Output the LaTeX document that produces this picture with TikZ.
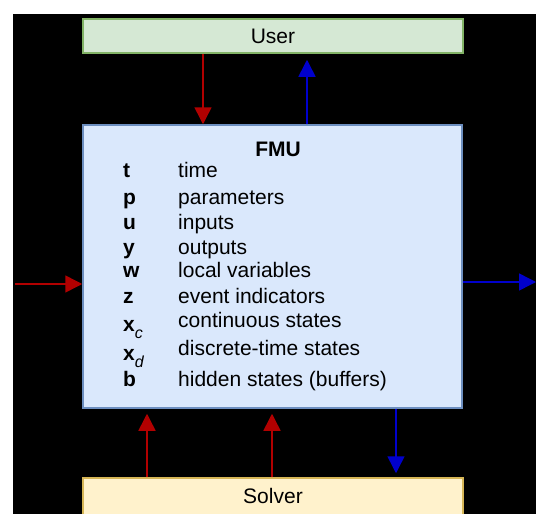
\documentclass[tikz,border=0pt]{standalone}
\usepackage{fontspec}
\setmainfont{Liberation Sans}
\usetikzlibrary{arrows.meta,positioning}
\definecolor{usergreen}{HTML}{D5E8D4}
\definecolor{userline}{HTML}{82B366}
\definecolor{fmublue}{HTML}{DAE8FC}
\definecolor{fmuline}{HTML}{6C8EBF}
\definecolor{solveryellow}{HTML}{FFF2CC}
\definecolor{solverline}{HTML}{D6B656}
\definecolor{inred}{HTML}{B20000}
\definecolor{outblue}{HTML}{0000CC}
\newcommand{\subsym}[2]{\textbf{#1}\raisebox{-7pt}{\fontsize{16}{16}\selectfont\mdseries\itshape #2}}

\begin{document}
\begin{tikzpicture}[x=1pt, y=-1pt, font=\fontsize{21}{25}\selectfont,
  box/.style = {draw, line width=1.5pt, minimum width=380pt, inner sep=0pt, text height=15pt, text depth=0pt},
  sym/.style = {anchor=base west, inner sep=0pt, font=\fontsize{21}{25}\selectfont\bfseries},
  desc/.style = {anchor=base west, inner sep=0pt},
  inarrow/.style = {draw=inred, line width=1.5pt, -{Triangle[length=17pt,width=17pt]}, fill=inred},
  outarrow/.style = {draw=outblue, line width=1.5pt, -{Triangle[length=17pt,width=17pt]}, fill=outblue}]
\useasboundingbox (0,0) rectangle (536,514);
\fill[white] (0,0) rectangle (536,514);
\fill[black] (13,14) rectangle (536,514);

\node[box, fill=usergreen, draw=userline, minimum height=34pt] (user) at (273,36) {User};
\node[box, fill=fmublue, draw=fmuline, minimum width=379pt, minimum height=283pt] (fmu) at (272.5,266.5) {};
\node[box, fill=solveryellow, draw=solverline, minimum height=40pt, text depth=4pt] (solver) at (273,498) {Solver};

\node[anchor=base, inner sep=0pt, font=\fontsize{21}{25}\selectfont\bfseries] (title) at (278,156) {FMU};
\node[sym] (t) at (123,177) {t};           \node[desc] (time) at (178,177) {time};
\node[sym] (p) at (123,204) {p};           \node[desc] (par) at (178,204) {parameters};
\node[sym] (u) at (123,229) {u};           \node[desc] (inp) at (178,229) {inputs};
\node[sym] (y) at (123,254) {y};           \node[desc] (outp) at (178,254) {outputs};
\node[sym] (w) at (123,277) {w};           \node[desc] (loc) at (178,277) {local variables};
\node[sym] (z) at (123,303) {z};           \node[desc] (ev) at (178,303) {event indicators};
\node[sym] (xc) at (123,331) {\subsym{x}{c}}; \node[desc] (cont) at (178,327) {continuous states};
\node[sym] (xd) at (123,360) {\subsym{x}{d}}; \node[desc] (disc) at (178,355) {discrete-time states};
\node[sym] (b) at (123,386) {b};           \node[desc] (hid) at (178,386) {hidden states (buffers)};

\coordinate (in) at (15,284);
\coordinate (out) at (536,282);

\draw[inarrow] ([xshift=-70pt]user.south) -- ([xshift=-69.5pt]fmu.north);
\draw[outarrow, shorten >=6pt] ([xshift=34.5pt]fmu.north) -- ([xshift=34pt]user.south);
\draw[inarrow, shorten >=5pt] ([xshift=-126pt]solver.north) -- ([xshift=-125.5pt]fmu.south);
\draw[inarrow, shorten >=5pt] ([xshift=-1pt]solver.north) -- ([xshift=-0.5pt]fmu.south);
\draw[outarrow, shorten >=4pt] ([xshift=123.5pt]fmu.south) -- ([xshift=123pt]solver.north);
\draw[inarrow] (in) -- (in -| fmu.west);
\draw[outarrow] (out -| fmu.east) -- (out);
\end{tikzpicture}
\end{document}
